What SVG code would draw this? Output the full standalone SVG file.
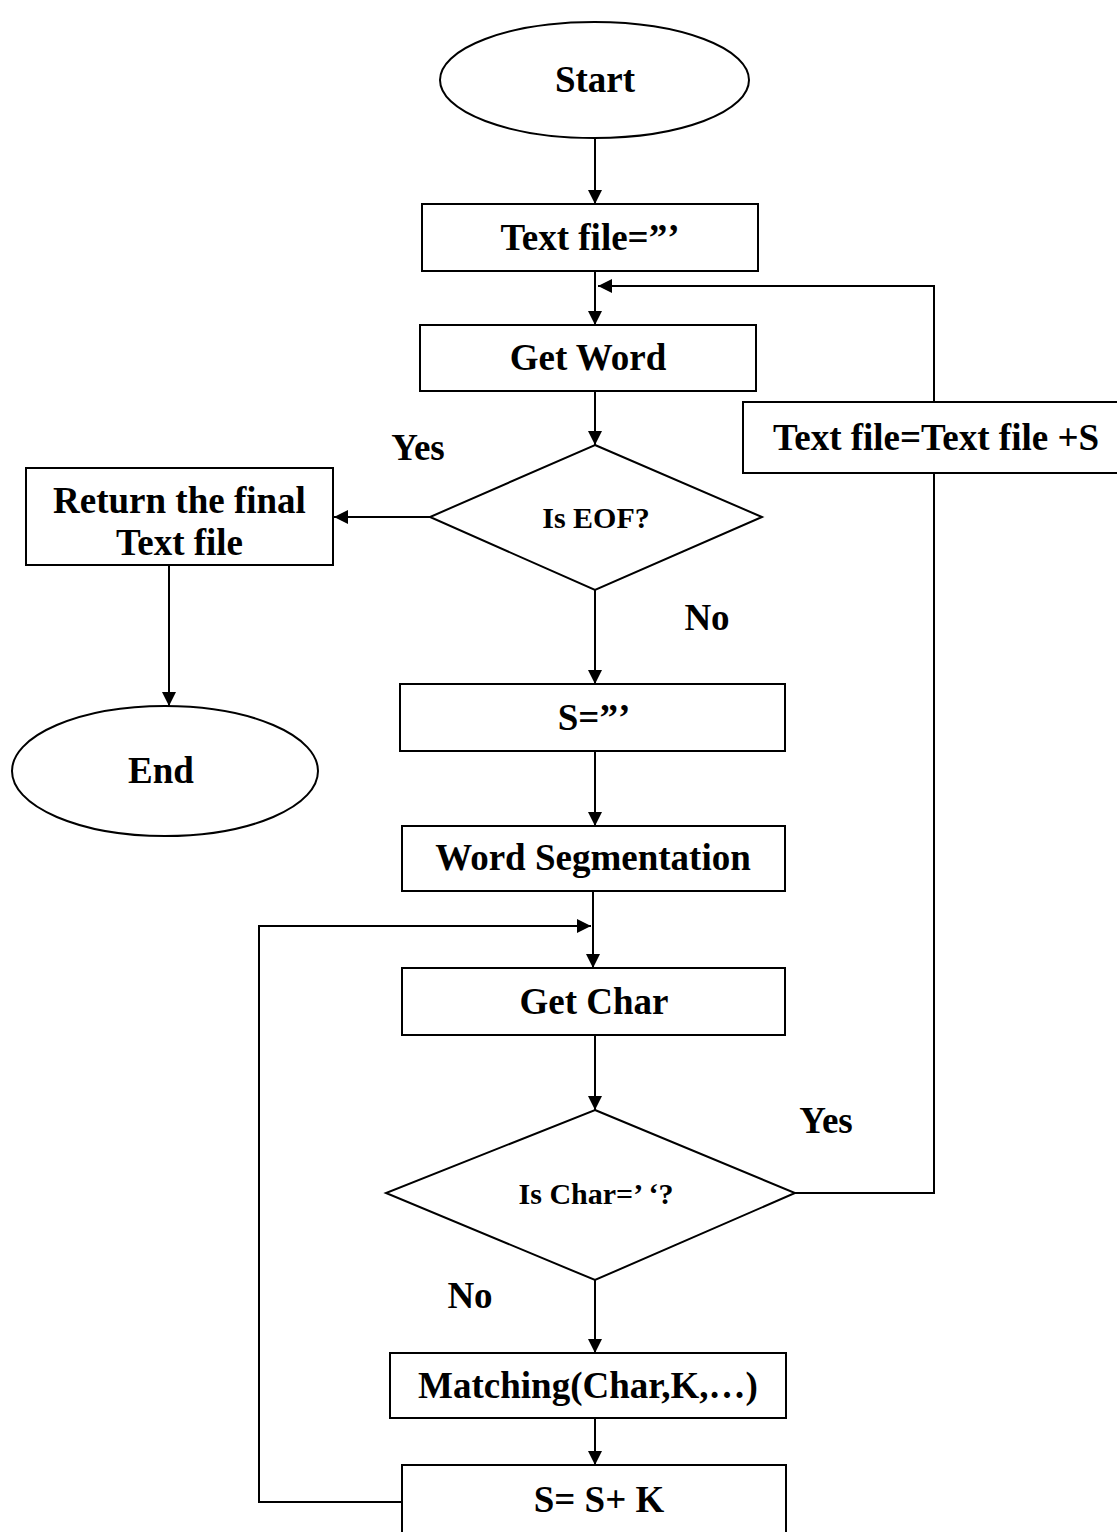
<svg xmlns="http://www.w3.org/2000/svg" width="1117" height="1532" viewBox="0 0 1117 1532">
  <style>
    .shape { fill: #ffffff; stroke: #000000; stroke-width: 2; }
    .edge { fill: none; stroke: #000000; stroke-width: 2; }
    .label { font-family: "Liberation Serif", "Times New Roman", serif; font-weight: bold; font-size: 37px; fill: #000000; text-anchor: middle; }
    .small { font-size: 30px; }
  </style>
  <defs>
    <marker id="arrow" markerUnits="userSpaceOnUse" markerWidth="16" markerHeight="14" refX="14" refY="7" orient="auto">
      <path d="M0,0 L14,7 L0,14 Z" fill="#000000"/>
    </marker>
  </defs>
  <rect width="1117" height="1532" fill="#ffffff"/>

  <g id="connectors">
    <line class="edge" x1="595" y1="138" x2="595" y2="204" marker-end="url(#arrow)"/>
    <line class="edge" x1="595" y1="271" x2="595" y2="325" marker-end="url(#arrow)"/>
    <polyline class="edge" points="795,1193 934,1193 934,473"/>
    <polyline class="edge" points="934,402 934,286 598,286" marker-end="url(#arrow)"/>
    <line class="edge" x1="595" y1="391" x2="595" y2="445" marker-end="url(#arrow)"/>
    <line class="edge" x1="430" y1="517" x2="334" y2="517" marker-end="url(#arrow)"/>
    <line class="edge" x1="169" y1="565" x2="169" y2="706" marker-end="url(#arrow)"/>
    <line class="edge" x1="595" y1="590" x2="595" y2="684" marker-end="url(#arrow)"/>
    <line class="edge" x1="595" y1="751" x2="595" y2="826" marker-end="url(#arrow)"/>
    <line class="edge" x1="593" y1="891" x2="593" y2="968" marker-end="url(#arrow)"/>
    <polyline class="edge" points="402,1502 259,1502 259,926 591,926" marker-end="url(#arrow)"/>
    <line class="edge" x1="595" y1="1035" x2="595" y2="1110" marker-end="url(#arrow)"/>
    <line class="edge" x1="595" y1="1280" x2="595" y2="1353" marker-end="url(#arrow)"/>
    <line class="edge" x1="595" y1="1418" x2="595" y2="1465" marker-end="url(#arrow)"/>
  </g>

  <g id="start">
    <ellipse class="shape" cx="594.5" cy="80" rx="154.5" ry="58"/>
    <text class="label" x="595" y="92">Start</text>
  </g>

  <g id="init-text-file">
    <rect class="shape" x="422" y="204" width="336" height="67"/>
    <text class="label" x="590" y="250">Text file=”’</text>
  </g>

  <g id="get-word">
    <rect class="shape" x="420" y="325" width="336" height="66"/>
    <text class="label" x="588" y="370">Get Word</text>
  </g>

  <g id="append-text">
    <rect class="shape" x="743" y="402" width="380" height="71"/>
    <text class="label" x="936" y="450">Text file=Text file +S</text>
  </g>

  <g id="is-eof">
    <polygon class="shape" points="595,445 762,517 595,590 430,517"/>
    <text class="label small" x="596" y="528">Is EOF?</text>
  </g>

  <g id="return-final">
    <rect class="shape" x="26" y="468" width="307" height="97"/>
    <text class="label" x="179.5" y="513">Return the final</text>
    <text class="label" x="179.5" y="555">Text file</text>
  </g>

  <g id="end">
    <ellipse class="shape" cx="165" cy="771" rx="153" ry="65"/>
    <text class="label" x="161" y="783">End</text>
  </g>

  <g id="eof-labels">
    <text class="label" x="418" y="460">Yes</text>
    <text class="label" x="707" y="630">No</text>
  </g>

  <g id="init-s">
    <rect class="shape" x="400" y="684" width="385" height="67"/>
    <text class="label" x="594" y="730">S=”’</text>
  </g>

  <g id="word-segmentation">
    <rect class="shape" x="402" y="826" width="383" height="65"/>
    <text class="label" x="593" y="870">Word Segmentation</text>
  </g>

  <g id="get-char">
    <rect class="shape" x="402" y="968" width="383" height="67"/>
    <text class="label" x="594" y="1014">Get Char</text>
  </g>

  <g id="is-space">
    <polygon class="shape" points="595,1110 795,1193 595,1280 386,1193"/>
    <text class="label small" x="596" y="1204">Is Char=’ ‘?</text>
  </g>

  <g id="space-labels">
    <text class="label" x="826" y="1133">Yes</text>
    <text class="label" x="470" y="1308">No</text>
  </g>

  <g id="matching">
    <rect class="shape" x="390" y="1353" width="396" height="65"/>
    <text class="label" x="588" y="1398">Matching(Char,K,…)</text>
  </g>

  <g id="append-s">
    <rect class="shape" x="402" y="1465" width="384" height="70"/>
    <text class="label" x="599" y="1512">S= S+ K</text>
  </g>
</svg>
